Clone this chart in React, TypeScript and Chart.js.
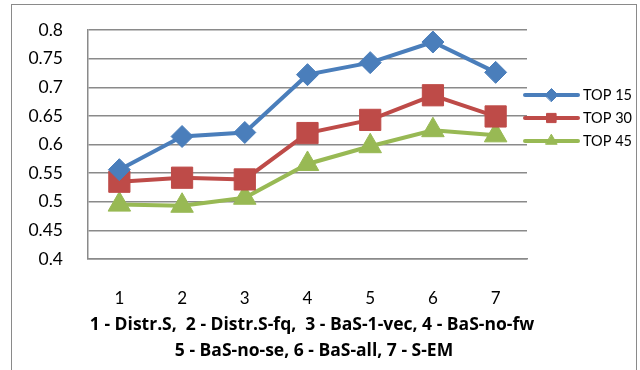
import React, { useEffect, useRef } from "react";
import { Chart, registerables } from "chart.js";
import { drawPoint } from "chart.js/helpers";

Chart.register(...registerables);

const categories = ["1", "2", "3", "4", "5", "6", "7"];
const seriesNames = ["TOP 15", "TOP 30", "TOP 45"];
const top15 = [0.556, 0.614, 0.621, 0.722, 0.743, 0.779, 0.726];
const top30 = [0.535, 0.542, 0.539, 0.62, 0.643, 0.686, 0.649];
const top45 = [0.495, 0.493, 0.507, 0.566, 0.597, 0.625, 0.616];
const seriesColors = ["#4A7EBB", "#BE4B48", "#98B954"];
const pointStyles = ["rectRot", "rect", "triangle"];
const pointSizes = [11, 15, 13];
const yMin = 0.4;
const yMax = 0.8;
const yStep = 0.05;
const titleLines = [
  "1 - Distr.S,  2 - Distr.S-fq,  3 - BaS-1-vec, 4 - BaS-no-fw",
  "5 - BaS-no-se, 6 - BaS-all, 7 - S-EM",
];

const FONT = "Lato, 'Open Sans', sans-serif";
const BOLD_FONT = "'Open Sans', 'Liberation Sans', sans-serif";

const legendPlugin = {
  id: "sideLegend",
  afterDraw(chart: any) {
    const ctx = chart.ctx;
    const x0 = 525;
    const x1 = 578;
    const ys = [95, 118, 141];
    chart.data.datasets.forEach((ds: any, i: number) => {
      const y = ys[i];
      ctx.save();
      ctx.strokeStyle = ds.borderColor;
      ctx.lineWidth = 4;
      ctx.lineCap = "round";
      ctx.beginPath();
      ctx.moveTo(x0, y);
      ctx.lineTo(x1, y);
      ctx.stroke();
      ctx.fillStyle = ds.borderColor;
      ctx.strokeStyle = ds.borderColor;
      ctx.lineWidth = 1;
      drawPoint(ctx, { pointStyle: ds.pointStyle, radius: 6.5, rotation: 0, borderWidth: 1 }, (x0 + x1) / 2, y);
      ctx.fillStyle = "#000";
      ctx.font = `14.5px ${FONT}`;
      ctx.textBaseline = "middle";
      ctx.textAlign = "left";
      ctx.fillText(ds.label, 583, y);
      ctx.restore();
    });
  },
};

const titlePlugin = {
  id: "bottomTitle",
  afterDraw(chart: any) {
    const ctx = chart.ctx;
    ctx.save();
    ctx.fillStyle = "#000";
    ctx.font = `bold 17.5px ${BOLD_FONT}`;
    ctx.textAlign = "center";
    ctx.textBaseline = "middle";
    ctx.fillText(titleLines[0], 312, 325, 466);
    ctx.fillText(titleLines[1], 314, 351, 295);
    ctx.restore();
  },
};

export default function App() {
  const ref = useRef<HTMLCanvasElement>(null);
  useEffect(() => {
    if (!ref.current) return;
    const data = [top15, top30, top45];
    const chart = new Chart(ref.current, {
      type: "line",
      data: {
        labels: categories,
        datasets: data.map((d, i) => ({
          label: seriesNames[i],
          data: d,
          borderColor: seriesColors[i],
          backgroundColor: seriesColors[i],
          pointBackgroundColor: seriesColors[i],
          pointBorderColor: seriesColors[i],
          pointStyle: pointStyles[i],
          pointRadius: pointSizes[i],
          pointBorderWidth: 1,
          borderWidth: 4,
          tension: 0,
          clip: false,
        })),
      },
      options: {
        animation: false,
        responsive: false,
        events: [],
        layout: { autoPadding: false, padding: { left: 0, right: 113, top: 30, bottom: 0 } },
        plugins: {
          legend: { display: false },
          tooltip: { enabled: false },
        },
        scales: {
          x: {
            offset: true,
            grid: { display: false, drawTicks: false },
            border: { display: true, color: "#8a8a8a", width: 1.5 },
            ticks: { color: "#000", font: { family: FONT, size: 17 }, padding: 29 },
            afterFit(scale: any) {
              scale.height = 111;
              scale.paddingLeft = 0;
              scale.paddingRight = 0;
            },
          },
          y: {
            min: yMin,
            max: yMax,
            grid: { color: "#8a8a8a", lineWidth: 1.5, drawTicks: false },
            border: { display: true, color: "#8a8a8a", width: 1.5 },
            ticks: {
              stepSize: yStep,
              color: "#000",
              font: { family: FONT, size: 17.5 },
              padding: 25,
              callback: (v: any) => String(Number(Number(v).toFixed(2))),
            },
            afterFit(scale: any) {
              scale.width = 88;
              scale.paddingTop = 0;
              scale.paddingBottom = 0;
            },
          },
        },
      },
      plugins: [legendPlugin, titlePlugin],
    });
    return () => chart.destroy();
  }, []);
  return (
    <div style={{ position: "fixed", left: 0, top: 0, width: 640, height: 370, background: "#fff", overflow: "hidden" }}>
      <canvas ref={ref} width={640} height={370} style={{ position: "absolute", left: 0, top: 0 }} />
      <div
        style={{
          position: "absolute",
          left: 11,
          top: 4,
          width: 624,
          height: 400,
          border: "1px solid #8a8a8a",
          pointerEvents: "none",
        }}
      />
    </div>
  );
}
